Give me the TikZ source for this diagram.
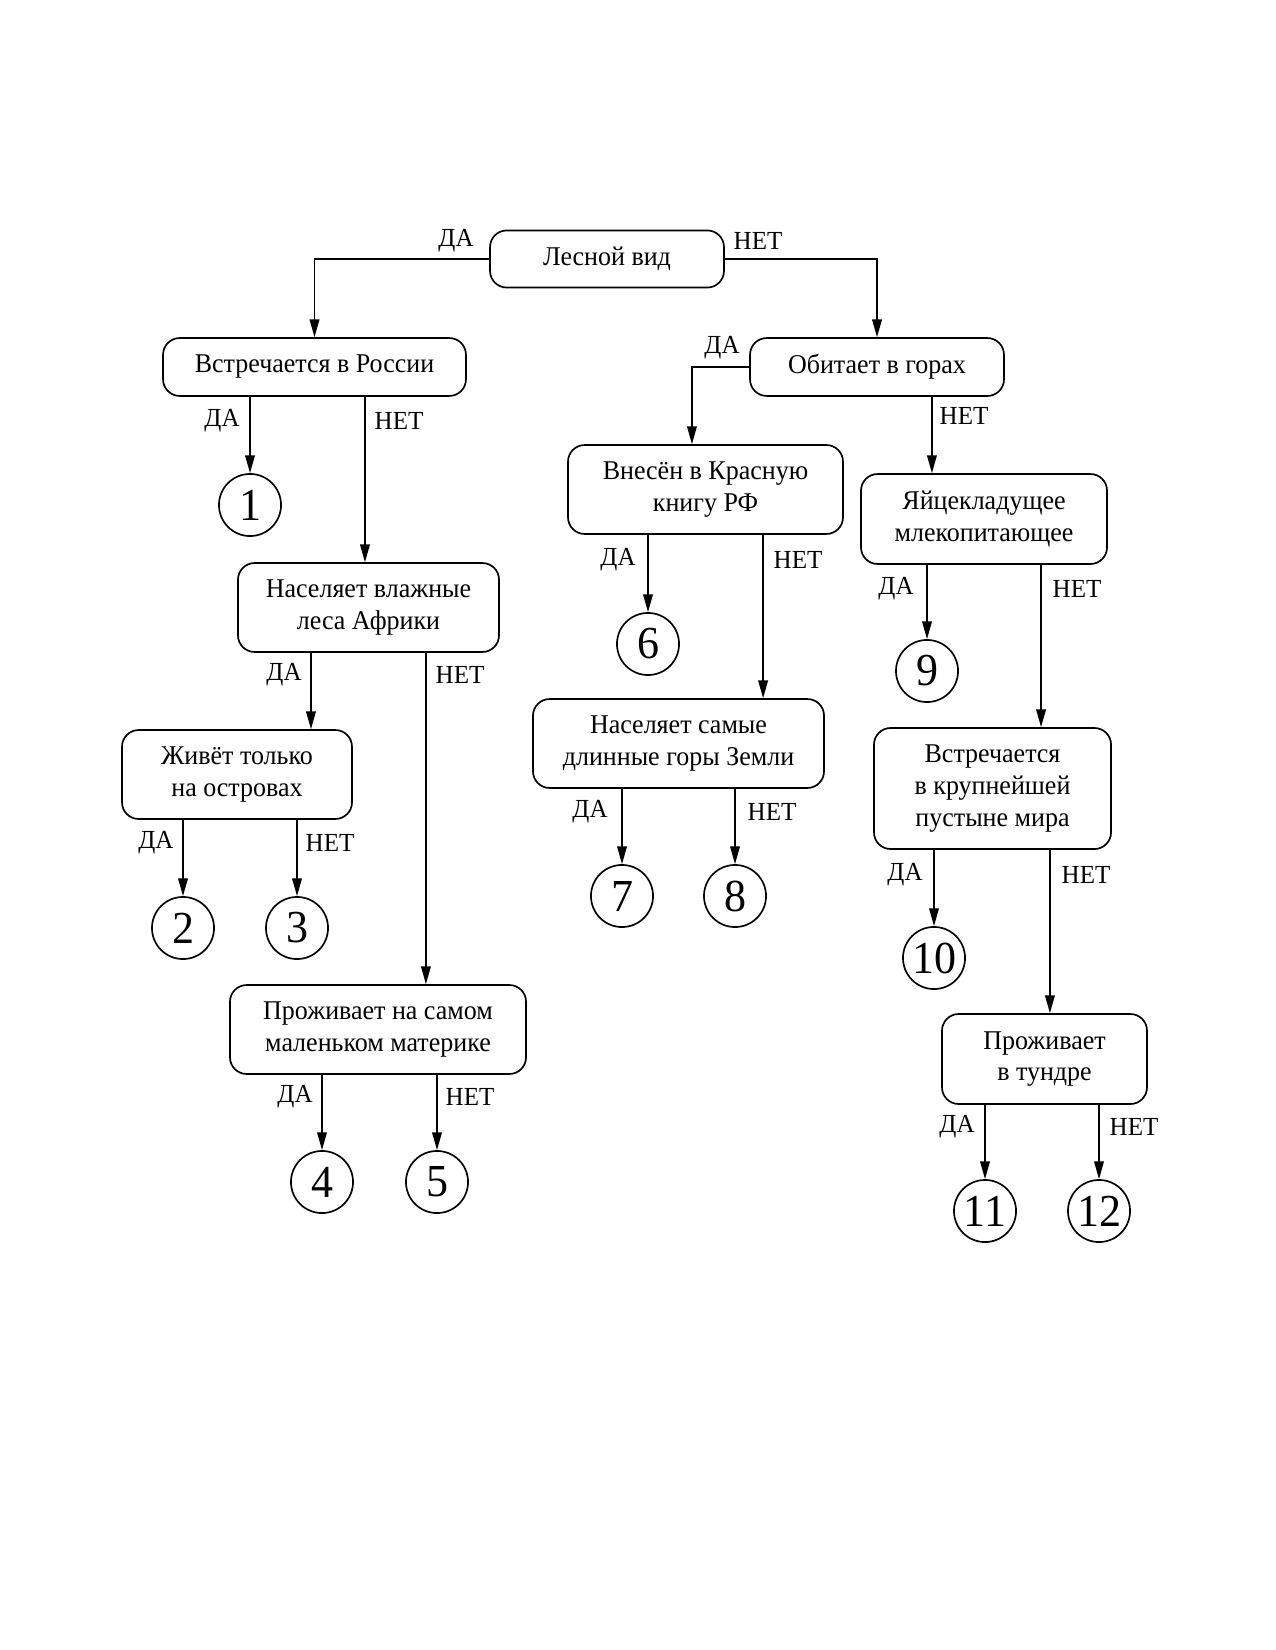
\documentclass[tikz,border=0pt]{standalone}
\usepackage{fontspec}
\setmainfont{Liberation Serif}[FakeStretch=0.96]
\usetikzlibrary{arrows.meta}
\tikzset{
  qbox/.style 2 args={draw, line width=0.8pt, rounded corners=8pt, minimum width=#1, minimum height=#2, align=center, inner sep=2pt, font=\fontsize{13}{15.2}\selectfont},
  leaf/.style={draw, line width=0.8pt, circle, minimum size=29.8pt, inner sep=0pt, font=\fontsize{22}{22}\selectfont},
  lab/.style={inner sep=0pt, font=\fontsize{12.5}{14}\selectfont},
  arr/.style={draw, line width=0.8pt, -{Triangle[length=8.5pt,width=4.6pt]}}
}
\begin{document}
\begin{tikzpicture}[x=0.48pt, y=-0.48pt]
\useasboundingbox (0,0) rectangle (1275,1650);
% boxes
\node[qbox={112.3pt}{27.4pt}] (lv) at (607,259) {Лесной вид};
\node[qbox={145.4pt}{27.8pt}] (vr) at (314.5,367) {Встречается в России};
\node[qbox={125.3pt}{42.7pt}] (nv) at (368.5,607.5) {Населяет влажные\\леса Африки};
\node[qbox={110.4pt}{42.7pt}] (jz) at (237,774.5) {Живёт только\\на островах};
\node[qbox={142.1pt}{42.7pt}] (pm) at (378,1029.5) {Проживает на самом\\маленьком материке};
\node[qbox={121.9pt}{27.8pt}] (og) at (877,367) {Обитает в горах};
\node[qbox={132pt}{42.7pt}] (vk) at (705.5,489.5) {Внесён в Красную\\книгу РФ};
\node[qbox={139.7pt}{42.7pt}] (ns) at (678.5,743.5) {Населяет самые\\длинные горы Земли};
\node[qbox={118.1pt}{43.2pt}] (ym) at (984,519) {Яйцекладущее\\млекопитающее};
\node[qbox={113.8pt}{58.1pt}] (vkp) at (992.5,788.5) {Встречается\\в крупнейшей\\пустыне мира};
\node[qbox={98.4pt}{43.2pt}] (pt) at (1044.5,1059) {Проживает\\в тундре};
% leaves
\node[leaf] (c1) at (250,505) {1};
\node[leaf] (c2) at (183,928) {2};
\node[leaf] (c3) at (297,928) {3};
\node[leaf] (c4) at (322,1182) {4};
\node[leaf] (c5) at (437,1182) {5};
\node[leaf] (c6) at (648,644) {6};
\node[leaf] (c7) at (622,896) {7};
\node[leaf] (c8) at (735,896) {8};
\node[leaf] (c9) at (927,671) {9};
\node[leaf] (c10) at (934,958) {10};
\node[leaf] (c11) at (985,1211) {11};
\node[leaf] (c12) at (1099,1211) {12};
% arrow entry points on boxes
\coordinate (a1) at ([xshift=-1.7pt]nv.north);
\coordinate (a2) at ([xshift=35.5pt]jz.north);
\coordinate (a3) at ([xshift=23pt]pm.north);
\coordinate (a4) at ([xshift=-6.5pt]vk.north);
\coordinate (a5) at ([xshift=-25pt]ym.north);
\coordinate (a6) at ([xshift=40.6pt]ns.north);
\coordinate (a7) at ([xshift=23.3pt]vkp.north);
\coordinate (a8) at ([xshift=2.6pt]pt.north);
% connectors
\draw[arr] (lv.west) -| (vr.north);
\draw[arr] (lv.east) -| (og.north);
\draw[arr] (c1.north |- vr.south) -- (c1.north);
\draw[arr] (a1 |- vr.south) -- (a1);
\draw[arr] (a2 |- nv.south) -- (a2);
\draw[arr] (a3 |- nv.south) -- (a3);
\draw[arr] (c2.north |- jz.south) -- (c2.north);
\draw[arr] (c3.north |- jz.south) -- (c3.north);
\draw[arr] (c4.north |- pm.south) -- (c4.north);
\draw[arr] (c5.north |- pm.south) -- (c5.north);
\draw[arr] (og.west) -| (a4);
\draw[arr] (a5 |- og.south) -- (a5);
\draw[arr] (c6.north |- vk.south) -- (c6.north);
\draw[arr] (a6 |- vk.south) -- (a6);
\draw[arr] (c7.north |- ns.south) -- (c7.north);
\draw[arr] (c8.north |- ns.south) -- (c8.north);
\draw[arr] (c9.north |- ym.south) -- (c9.north);
\draw[arr] (a7 |- ym.south) -- (a7);
\draw[arr] (c10.north |- vkp.south) -- (c10.north);
\draw[arr] (a8 |- vkp.south) -- (a8);
\draw[arr] (c11.north |- pt.south) -- (c11.north);
\draw[arr] (c12.north |- pt.south) -- (c12.north);
% labels
\node[lab] (l0d) at (456,241) {ДА};
\node[lab] (l0n) at (758,241) {НЕТ};
\node[lab] (l1d) at (222,421) {ДА};
\node[lab] (l1n) at (399,421) {НЕТ};
\node[lab] (l2d) at (284,675) {ДА};
\node[lab] (l2n) at (460,675) {НЕТ};
\node[lab] (l3d) at (156,843) {ДА};
\node[lab] (l3n) at (330,843) {НЕТ};
\node[lab] (l4d) at (295,1097) {ДА};
\node[lab] (l4n) at (470,1097) {НЕТ};
\node[lab] (l5d) at (722,348) {ДА};
\node[lab] (l5n) at (964,416) {НЕТ};
\node[lab] (l6d) at (618,560) {ДА};
\node[lab] (l6n) at (798,560) {НЕТ};
\node[lab] (l7d) at (590,812) {ДА};
\node[lab] (l7n) at (772,812) {НЕТ};
\node[lab] (l8d) at (896,589) {ДА};
\node[lab] (l8n) at (1077,589) {НЕТ};
\node[lab] (l9d) at (905,875) {ДА};
\node[lab] (l9n) at (1086,875) {НЕТ};
\node[lab] (l10d) at (957,1127) {ДА};
\node[lab] (l10n) at (1134,1127) {НЕТ};
\end{tikzpicture}
\end{document}
